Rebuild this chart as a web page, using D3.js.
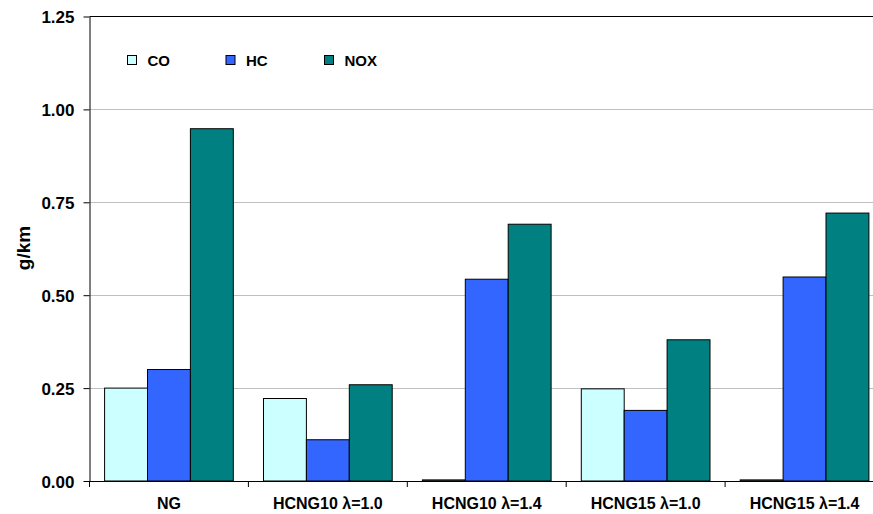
<head>
	<meta charset="utf-8">
	<script src="https://d3js.org/d3.v7.min.js"></script>
	<style>
		body {
			margin: 0;
			background: #fff;
		}
		svg text {
			font-family: "Liberation Sans", Arial, sans-serif;
			font-weight: bold;
			fill: #000;
		}
		.y-axis text {
			font-size: 17px;
		}
		.x-axis text {
			font-size: 16px;
		}
		.legend text {
			font-size: 15px;
		}
	</style>
</head>
<body>

<svg width="873" height="514" id="chart"></svg>

<script>

	var categories = ["NG", "HCNG10 λ=1.0", "HCNG10 λ=1.4", "HCNG15 λ=1.0", "HCNG15 λ=1.4"];
	var keys = ["CO", "HC", "NOX"];
	var co  = [0.25, 0.222, 0.003, 0.248, 0.003];
	var hc  = [0.30, 0.111, 0.543, 0.190, 0.549];
	var nox = [0.948, 0.259, 0.691, 0.380, 0.721];
	var yTicks = [0, 0.25, 0.5, 0.75, 1.0, 1.25];

	var data = categories.map((c, i) => ({cat: c, CO: co[i], HC: hc[i], NOX: nox[i]}));

	var svg = d3.select("#chart"),
		margin = {top: 16.5, right: -11, bottom: 33, left: 89.5},
		width = +svg.attr("width"),
		height = +svg.attr("height");

	var color = d3.scaleOrdinal()
		.domain(keys)
		.range(["#ccffff", "#3366ff", "#008080"]);

	var x0 = d3.scaleBand()
		.domain(categories)
		.range([margin.left, width - margin.right])
		.paddingInner(0.19)
		.paddingOuter(0.095);

	var xEdge = d3.scaleBand()
		.domain(categories)
		.range([margin.left, width - margin.right]);

	var x1 = d3.scaleBand()
		.domain(keys)
		.range([0, x0.bandwidth()]);

	var y = d3.scaleLinear()
		.domain([0, 1.25])
		.range([height - margin.bottom, margin.top]);

	// gridlines
	svg.append("g")
		.selectAll("line")
		.data(yTicks.slice(1, -1))
		.enter().append("line")
		.attr("x1", margin.left)
		.attr("x2", width)
		.attr("y1", d => Math.round(y(d)) + 0.5)
		.attr("y2", d => Math.round(y(d)) + 0.5)
		.attr("stroke", "#c0c0c0");

	// top border
	svg.append("line")
		.attr("x1", margin.left)
		.attr("x2", width)
		.attr("y1", y(1.25))
		.attr("y2", y(1.25))
		.attr("stroke", "#000");

	// bars
	svg.append("g")
		.selectAll("g")
		.data(data)
		.enter().append("g")
		.attr("transform", d => "translate(" + x0(d.cat) + ",0)")
		.selectAll("rect")
		.data(d => keys.map(k => ({key: k, value: d[k]})))
		.enter().append("rect")
		.attr("x", d => x1(d.key))
		.attr("y", d => y(d.value))
		.attr("width", x1.bandwidth())
		.attr("height", d => y(0) - y(d.value))
		.attr("fill", d => color(d.key))
		.attr("stroke", "#000")
		.attr("stroke-width", 1);

	// y axis
	var yAxis = svg.append("g")
		.attr("class", "y-axis")
		.attr("transform", "translate(" + margin.left + ",0)")
		.call(d3.axisLeft(y)
			.tickValues(yTicks)
			.tickFormat(d3.format(".2f"))
			.tickSize(6)
			.tickSizeOuter(0)
			.tickPadding(9));
	yAxis.selectAll("text").attr("dy", "0.36em");
	yAxis.select(".domain").attr("stroke", "#000");

	// x axis
	var xAxis = svg.append("g")
		.attr("class", "x-axis")
		.attr("transform", "translate(0," + y(0) + ")")
		.call(d3.axisBottom(x0).tickSize(0).tickPadding(17));
	xAxis.select(".domain").attr("d", "M" + margin.left + ",0.5H" + width).attr("stroke", "#000");
	xAxis.selectAll(".tick line").remove();

	xAxis.selectAll(".edge")
		.data(categories)
		.enter().append("line")
		.attr("x1", d => xEdge(d))
		.attr("x2", d => xEdge(d))
		.attr("y1", 0)
		.attr("y2", 6)
		.attr("stroke", "#000");

	// y title
	svg.append("text")
		.attr("transform", "translate(30,248) rotate(-90)")
		.attr("text-anchor", "middle")
		.style("font-size", "19px")
		.text("g/km");

	// legend
	var legend = svg.selectAll(".legend")
		.data(keys)
		.enter().append("g")
		.attr("class", "legend")
		.attr("transform", (d, i) => "translate(" + (127.5 + i * 98.5) + ",55.5)");

	legend.append("rect")
		.attr("width", 9)
		.attr("height", 9)
		.attr("fill", color)
		.attr("stroke", "#000");

	legend.append("text")
		.attr("x", 20)
		.attr("y", 10.5)
		.text(d => d);

</script>
</body>
